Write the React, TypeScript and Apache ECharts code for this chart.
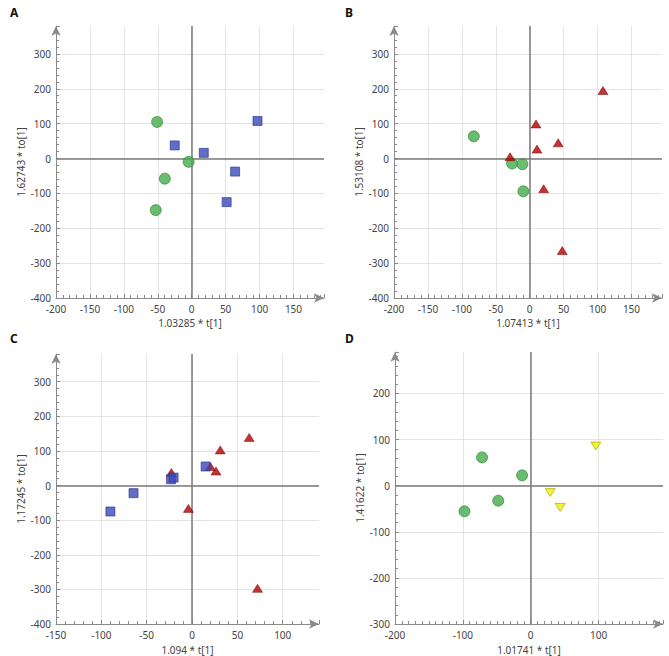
import React, { useEffect, useRef } from "react";
import * as echarts from "echarts";

// Panel A
const aCircles: number[][] = [[-51, 105], [-39.6, -57.7], [-53, -148], [-4.5, -9.6]];
const aSquares: number[][] = [[-25, 37.5], [17.8, 16.3], [97, 107.7], [64, -37.5], [51.5, -125]];
// Panel B
const bCircles: number[][] = [[-82.4, 63.5], [-26, -14.4], [-10.8, -16.3], [-9.3, -94]];
const bTriangles: number[][] = [[108, 195], [9.3, 99], [10.8, 27], [42, 45], [-29, 5], [20.6, -86.5], [48, -264]];
// Panel C
const cTriangles: number[][] = [[-22.8, 37.5], [20.3, 55], [26.4, 42], [31.1, 103], [63, 139], [-4, -66], [72.2, -297]];
const cSquares: number[][] = [[-90, -75], [-64.5, -22], [-23.2, 18.3], [-20.3, 23], [15, 55]];
// Panel D
const dCircles: number[][] = [[-71.7, 61.4], [-12.7, 22.4], [-47.8, -32.5], [-97.6, -55.6]];
const dTriangles: number[][] = [[96, 86], [28.8, -15], [43.4, -47]];

const panelLabels = ["A", "B", "C", "D"];
const xNames = ["1.03285 * t[1]", "1.07413 * t[1]", "1.094 * t[1]", "1.01741 * t[1]"];
const yNames = ["1.62743 * to[1]", "1.53108 * to[1]", "1.17245 * to[1]", "1.41622 * to[1]"];

const FONT = "Noto Sans";
const AXIS_COLOR = "#8a8a8a";

const grids = [
  { left: 56, right: 345, top: 26, bottom: 358 },
  { left: 394, right: 7, top: 26, bottom: 358 },
  { left: 56, right: 350, top: 354, bottom: 32 },
  { left: 395, right: 6, top: 352, bottom: 32 },
];
const xRanges = [
  { min: -200, max: 195, interval: 50, minor: 5 },
  { min: -200, max: 195, interval: 50, minor: 5 },
  { min: -150, max: 140, interval: 50, minor: 5 },
  { min: -200, max: 195, interval: 100, minor: 10 },
];
const yRanges = [
  { min: -400, max: 380, interval: 100, minor: 5 },
  { min: -400, max: 380, interval: 100, minor: 5 },
  { min: -400, max: 380, interval: 100, minor: 5 },
  { min: -300, max: 290, interval: 100, minor: 5 },
];
const xNameGaps = [19, 19, 20, 20];

function axisCommon(name: string, r: any, isY: boolean, gi: number) {
  return {
    type: "value",
    gridIndex: gi,
    min: r.min,
    max: r.max,
    interval: r.interval,
    name,
    nameLocation: "middle",
    nameGap: isY ? 16 : xNameGaps[gi],
    nameTextStyle: { fontFamily: FONT, fontSize: 10, lineHeight: 11, color: "#444" },
    axisLine: {
      show: true,
      onZero: false,
      symbol: ["none", "arrow"],
      symbolSize: [7, 10],
      lineStyle: { color: AXIS_COLOR, width: 1 },
    },
    axisTick: { show: true, inside: true, length: 4, lineStyle: { color: AXIS_COLOR } },
    minorTick: { show: true, splitNumber: r.minor, length: 3, lineStyle: { color: AXIS_COLOR } },
    axisLabel: {
      fontFamily: FONT,
      fontSize: 10,
      lineHeight: isY ? 10 : 11,
      color: "#444",
      margin: 5,
      showMaxLabel: false,
    },
    splitLine: { show: true, showMaxLine: false, showMinLine: false, lineStyle: { color: "#e4e4e4", width: 1 } },
  };
}

const circleStyle = { color: "#45ad4a", borderColor: "#2b7f30", borderWidth: 0.8 };
const squareStyle = { color: "#3a48b8", borderColor: "#27318a", borderWidth: 0.8 };
const triStyle = { color: "#b30000", borderColor: "#7a0000", borderWidth: 0.6 };
const yellowStyle = { color: "#f2f200", borderColor: "#a0a000", borderWidth: 0.8 };

function zeroLines() {
  return {
    silent: true,
    symbol: "none",
    label: { show: false },
    lineStyle: { color: "#7a7a7a", width: 1.5, type: "solid" },
    data: [{ xAxis: 0 }, { yAxis: 0 }],
  };
}

function sc(data: number[][], gi: number, symbol: string, size: number | number[], style: any, rotate = 0, withZero = false) {
  const s: any = {
    type: "scatter",
    xAxisIndex: gi,
    yAxisIndex: gi,
    data,
    symbol,
    symbolSize: size,
    symbolRotate: rotate,
    itemStyle: style,
    z: 5,
  };
  if (withZero) s.markLine = zeroLines();
  return s;
}

export default function App() {
  const ref = useRef<HTMLDivElement>(null);
  useEffect(() => {
    if (!ref.current) return;
    const chart = echarts.init(ref.current, null, { renderer: "svg" });
    const labelPos = [
      [10, 6],
      [345, 6],
      [10, 332],
      [345, 332],
    ];
    chart.setOption({
      animation: false,
      backgroundColor: "#ffffff",
      grid: grids.map((g) => ({ ...g, containLabel: false })),
      xAxis: xRanges.map((r, i) => axisCommon(xNames[i], r, false, i)),
      yAxis: yRanges.map((r, i) => axisCommon(yNames[i], r, true, i)),
      graphic: panelLabels.map((t, i) => ({
        type: "text",
        left: labelPos[i][0],
        top: labelPos[i][1],
        style: { text: t, fontFamily: FONT, fontWeight: "bold", fontSize: 12, fill: "#111" },
      })),
      series: [
        sc(aCircles, 0, "circle", 11, circleStyle, 0, true),
        sc(aSquares, 0, "rect", 9, squareStyle),
        sc(bCircles, 1, "circle", 11, circleStyle, 0, true),
        sc(bTriangles, 1, "triangle", [10, 8], triStyle),
        sc(cTriangles, 2, "triangle", [10, 8], triStyle, 0, true),
        sc(cSquares, 2, "rect", 9, squareStyle),
        sc(dCircles, 3, "circle", 11, circleStyle, 0, true),
        sc(dTriangles, 3, "triangle", [10, 8], yellowStyle, 180),
      ],
    });
    return () => chart.dispose();
  }, []);
  return (
    <div
      ref={ref}
      style={{ position: "fixed", left: 0, top: 0, width: 669, height: 656, background: "#fff" }}
    />
  );
}
